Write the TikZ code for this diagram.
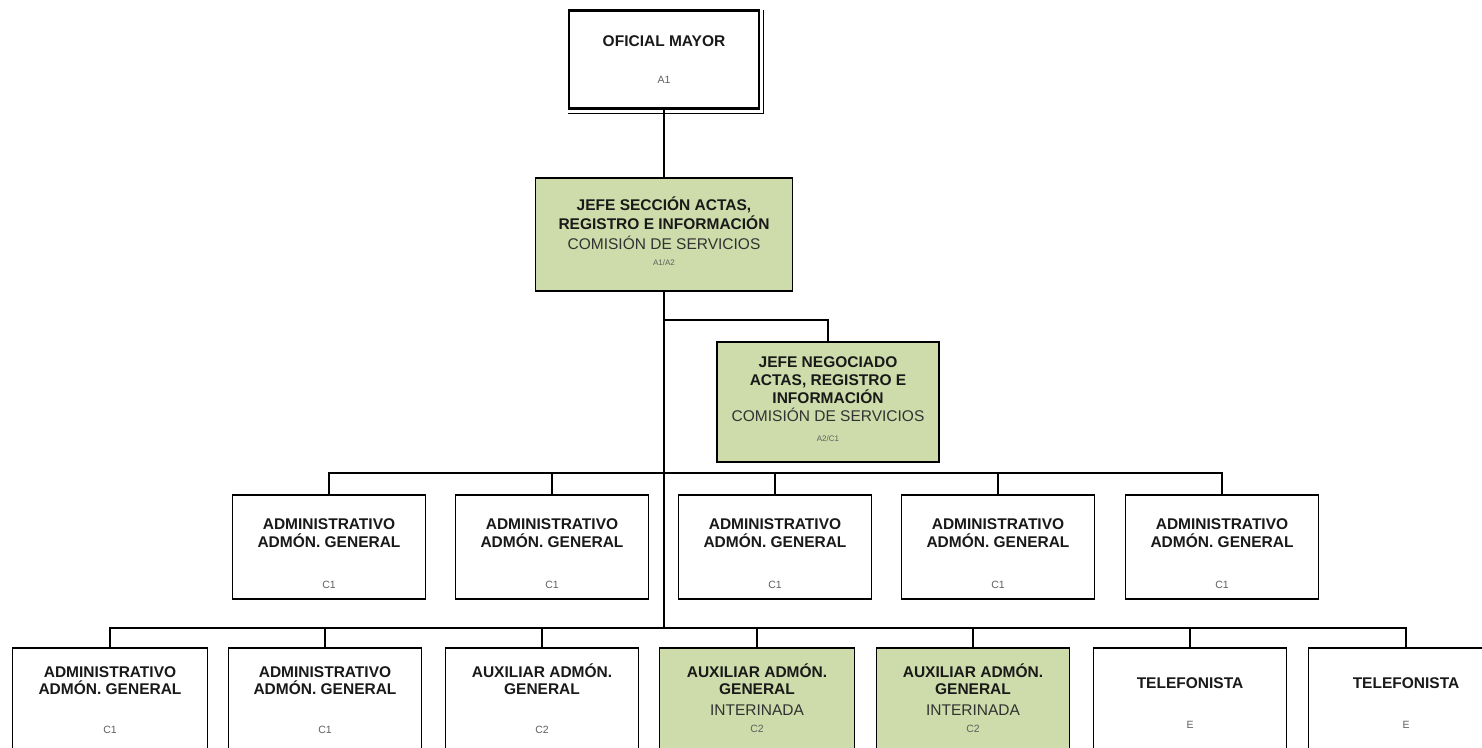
\documentclass[tikz,border=0pt]{standalone}
\usepackage{fontspec}
\setmainfont{Liberation Sans}
\definecolor{boxgreen}{RGB}{205,220,170}
\definecolor{codegray}{RGB}{95,95,95}
\definecolor{subgray}{RGB}{50,50,50}
\begin{document}
\begin{tikzpicture}[x=1pt,y=-1pt,
  box/.style={draw=black, line width=1.5pt, anchor=north, inner sep=0pt, fill=white},
  gbox/.style={box, fill=boxgreen},
  ttl/.style={font=\bfseries\fontsize{15.5}{17}\selectfont, inner sep=0pt, anchor=base, text=black!90},
  sub/.style={font=\fontsize{15.5}{17}\selectfont, inner sep=0pt, anchor=base, text=subgray},
  code/.style={font=\fontsize{10.5}{12}\selectfont, inner sep=0pt, anchor=base, text=codegray},
  tiny/.style={font=\fontsize{8}{9}\selectfont, inner sep=0pt, anchor=base, text=codegray},
  conn/.style={draw=black, line width=1.5pt}]
\useasboundingbox (0,0) rectangle (1482,747);
\clip (0,0) rectangle (1482,747);

% top box
\node[box, line width=2.6pt, minimum width=190pt, minimum height=98pt] (om) at (664,9) {};
\draw[line width=0.8pt] ([xshift=3.5pt,yshift=-1pt]om.north east) |- ([yshift=-4pt]om.south west);
\node[ttl] (omt) at (664,46.5) {OFICIAL MAYOR};
\node[code] (omc) at (664,83) {A1};

% jefe seccion
\node[gbox, minimum width=257pt, minimum height=113pt] (js) at (664,177) {};
\node[ttl] (jst1) at (664,210.5) {JEFE SECCIÓN ACTAS,};
\node[ttl] (jst2) at (664,229.5) {REGISTRO E INFORMACIÓN};
\node[sub] (jss) at (664,249.5) {COMISIÓN DE SERVICIOS};
\node[tiny] (jsc) at (664,265) {A1/A2};

% jefe negociado
\node[gbox, minimum width=222pt, minimum height=120pt] (jn) at (828,341) {};
\node[ttl] (jnt1) at (828,367.5) {JEFE NEGOCIADO};
\node[ttl] (jnt2) at (828,385.5) {ACTAS, REGISTRO E};
\node[ttl] (jnt3) at (828,403.5) {INFORMACIÓN};
\node[sub] (jns) at (828,421.5) {COMISIÓN DE SERVICIOS};
\node[tiny] (jnc) at (828,441) {A2/C1};

% row 1
\foreach \i/\x in {1/329,2/552,3/775,4/998,5/1222}{
  \node[box, minimum width=193pt, minimum height=104pt] (a\i) at (\x,494) {};
  \node[ttl] (a\i t1) at (\x,529.5) {ADMINISTRATIVO};
  \node[ttl] (a\i t2) at (\x,547.5) {ADMÓN. GENERAL};
  \node[code] (a\i c) at (\x,588) {C1};
}

% row 2
\node[box, minimum width=195pt, minimum height=110pt] (b1) at (110,647) {};
\node[ttl] (b1t1) at (110,677.5) {ADMINISTRATIVO};
\node[ttl] (b1t2) at (110,694.5) {ADMÓN. GENERAL};
\node[code] (b1c) at (110,733) {C1};

\node[box, minimum width=193pt, minimum height=110pt] (b2) at (325,647) {};
\node[ttl] (b2t1) at (325,677.5) {ADMINISTRATIVO};
\node[ttl] (b2t2) at (325,694.5) {ADMÓN. GENERAL};
\node[code] (b2c) at (325,733) {C1};

\node[box, minimum width=193pt, minimum height=110pt] (b3) at (542,647) {};
\node[ttl] (b3t1) at (542,677.5) {AUXILIAR ADMÓN.};
\node[ttl] (b3t2) at (542,694.5) {GENERAL};
\node[code] (b3c) at (542,733) {C2};

\node[gbox, minimum width=195pt, minimum height=110pt] (b4) at (757,647) {};
\node[ttl] (b4t1) at (757,677.5) {AUXILIAR ADMÓN.};
\node[ttl] (b4t2) at (757,694.5) {GENERAL};
\node[sub] (b4s) at (757,715.5) {INTERINADA};
\node[code] (b4c) at (757,732) {C2};

\node[gbox, minimum width=193pt, minimum height=110pt] (b5) at (973,647) {};
\node[ttl] (b5t1) at (973,677.5) {AUXILIAR ADMÓN.};
\node[ttl] (b5t2) at (973,694.5) {GENERAL};
\node[sub] (b5s) at (973,715.5) {INTERINADA};
\node[code] (b5c) at (973,732) {C2};

\node[box, minimum width=193pt, minimum height=110pt] (b6) at (1190,647) {};
\node[ttl] (b6t1) at (1190,688.5) {TELEFONISTA};
\node[code] (b6c) at (1190,728) {E};

\node[box, minimum width=195pt, minimum height=110pt] (b7) at (1406,647) {};
\node[ttl] (b7t1) at (1406,688.5) {TELEFONISTA};
\node[code] (b7c) at (1406,728) {E};

% connectors
\coordinate (t1) at (664,320);
\coordinate (t2) at (664,473);
\coordinate (t3) at (664,628);
\draw[conn] (om.south) -- (js.north);
\draw[conn] (js.south) -- (t3);
\draw[conn] (t1) -| (jn.north);
\draw[conn] (a1.north) |- (a5.north |- t2) -- (a5.north);
\foreach \i in {2,3,4}{ \draw[conn] (a\i.north) -- (a\i.north |- t2); }
\draw[conn] (b1.north) |- (b7.north |- t3) -- (b7.north);
\foreach \i in {2,3,4,5,6}{ \draw[conn] (b\i.north) -- (b\i.north |- t3); }
\end{tikzpicture}
\end{document}
